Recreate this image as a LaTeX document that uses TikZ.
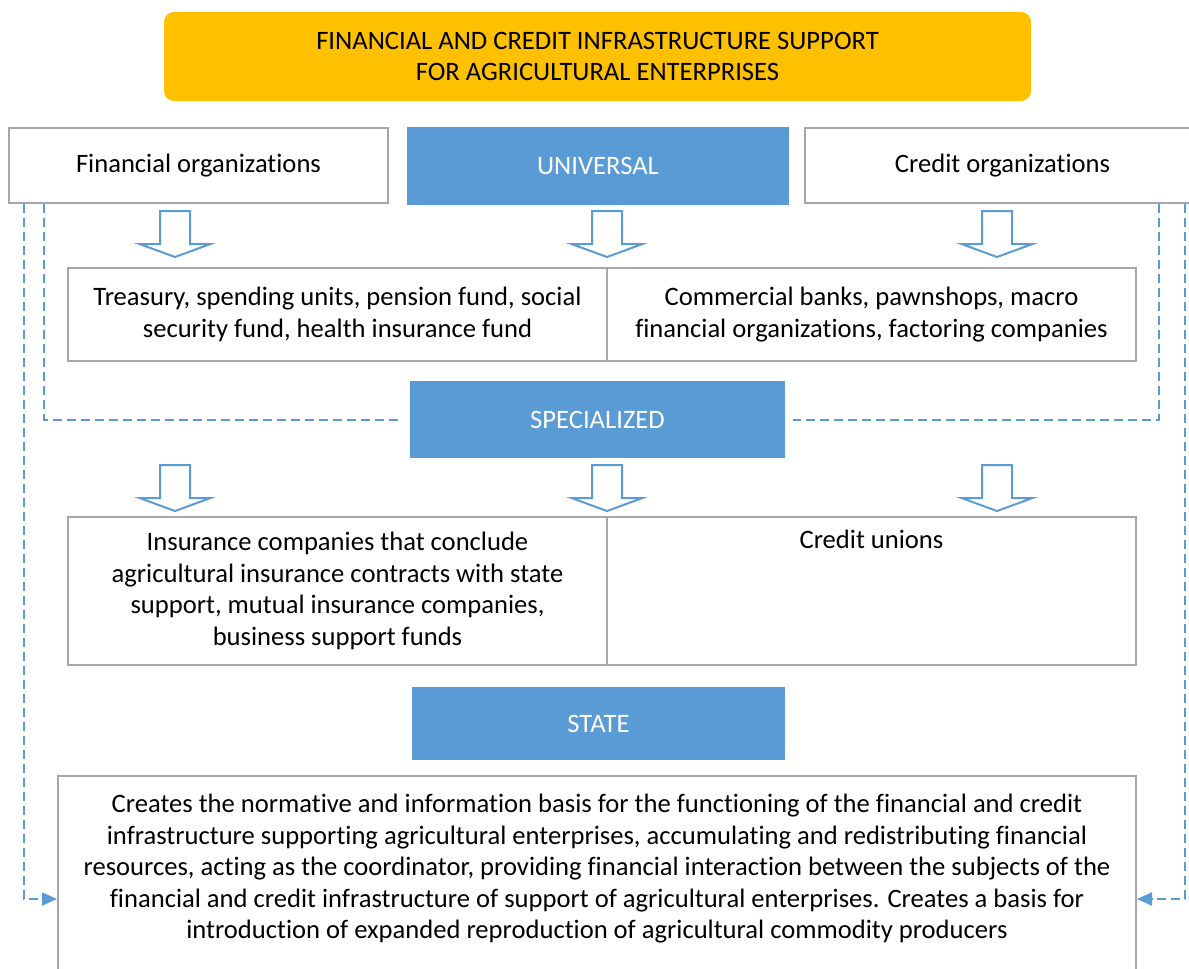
\documentclass[tikz,border=0pt]{standalone}
\usepackage{fontspec}
\setmainfont{Carlito}[Ligatures=NoCommon]
\usepackage{tikz}
\usetikzlibrary{arrows.meta}
\definecolor{gold}{HTML}{FFC000}
\definecolor{steel}{HTML}{5B9BD5}
\definecolor{frame}{HTML}{A6A6A6}
\begin{document}
\begin{tikzpicture}[x=0.5pt,y=-0.5pt,font=\fontsize{13.3}{15.8}\selectfont]
\tikzstyle{orgbox}=[draw=frame,line width=1pt,fill=white,align=center,inner sep=0pt];
\tikzstyle{tier}=[fill=steel,text=white,inner sep=0pt];
\tikzstyle{hollow}=[draw=steel,line width=1pt,fill=white,line join=miter];
\tikzstyle{dashlink}=[draw=steel,line width=1pt,dash pattern=on 4.5pt off 2.5pt,-{Triangle[length=7.5pt,width=6.5pt]}];
\useasboundingbox (0,0) rectangle (1189,969);
\node[fill=gold,rounded corners=5pt,minimum width=433.5pt,minimum height=44.5pt,align=center] (head) at (597.5,56.5) {FINANCIAL AND CREDIT INFRASTRUCTURE SUPPORT\\FOR AGRICULTURAL ENTERPRISES};
\node[orgbox,minimum width=189.5pt,minimum height=37.5pt] (finorg) at (198.5,165.5) {Financial organizations};
\node[tier,minimum width=191pt,minimum height=39pt] (univ) at (598,166) {UNIVERSAL};
\node[orgbox,minimum width=197.5pt,minimum height=37.5pt] (credorg) at (1002.5,165.5) {Credit organizations};
\node[orgbox,minimum width=269.5pt,minimum height=46.5pt] (treasury) at (337.5,314.5) {Treasury, spending units, pension fund, social\\security fund, health insurance fund};
\node[orgbox,minimum width=264.5pt,minimum height=46.5pt] (banks) at (871.5,314.5) {Commercial banks, pawnshops, macro\\financial organizations, factoring companies};
\node[tier,minimum width=187.5pt,minimum height=38.5pt] (spec) at (597.5,419.5) {SPECIALIZED};
\node[orgbox,minimum width=269.5pt,minimum height=74pt] (insur) at (337.5,591) {Insurance companies that conclude\\agricultural insurance contracts with state\\support, mutual insurance companies,\\business support funds};
\node[orgbox,minimum width=264.5pt,minimum height=74pt] (unions) at (871.5,591) {Credit unions\\ \strut\\ \strut\\ \strut};
\node[tier,minimum width=186.5pt,minimum height=36.5pt] (state) at (598.5,723.5) {STATE};
\node[orgbox,anchor=north,minimum width=539pt,inner ysep=9pt] (basis) at (597,775) {Creates the normative and information basis for the functioning of the financial and credit\\infrastructure supporting agricultural enterprises, accumulating and redistributing financial\\resources, acting as the coordinator, providing financial interaction between the subjects of the\\financial and credit infrastructure of support of agricultural enterprises. Creates a basis for\\introduction of expanded reproduction of agricultural commodity producers\\ \strut};
\foreach \x/\y in {175/211,607/211,997/211,175/465,607/465,997/465}
  \draw[hollow] (\x-15,\y) -- (\x+15,\y) -- (\x+15,\y+33) -- (\x+35.5,\y+33) -- (\x,\y+46) -- (\x-35.5,\y+33) -- (\x-15,\y+33) -- cycle;
\draw[dashlink] ([xshift=8pt]finorg.south west) |- ([yshift=-62pt]basis.north west);
\draw[dashlink,-] ([xshift=18pt]finorg.south west) |- ([xshift=-4pt]spec.west);
\draw[dashlink,-] ([xshift=-21pt]credorg.south east) |- ([xshift=4pt]spec.east);
\draw[dashlink] ([xshift=-8pt]credorg.south east) |- ([yshift=-62pt]basis.north east);
\end{tikzpicture}
\end{document}
